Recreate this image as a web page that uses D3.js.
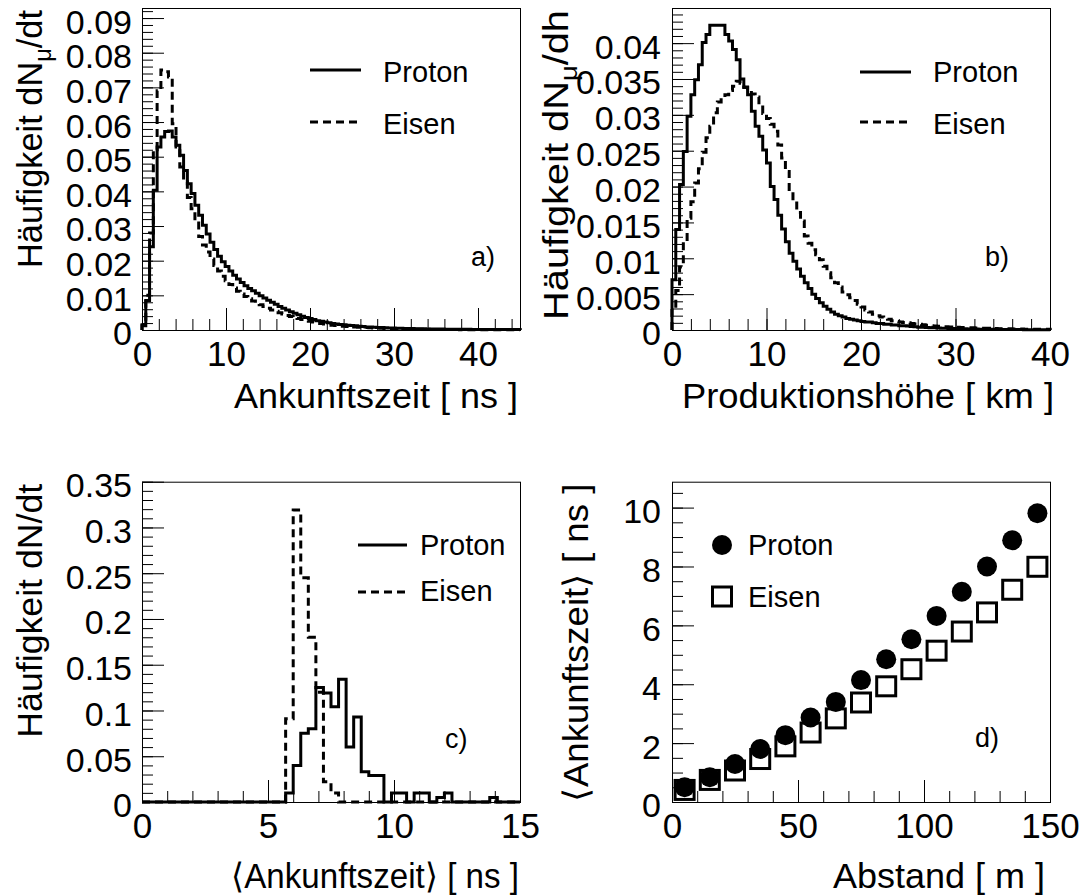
<!DOCTYPE html>
<html>
<head>
<meta charset="utf-8">
<script src="https://cdn.jsdelivr.net/npm/d3@7"></script>
<style>
  * { margin: 0; padding: 0; }
  body { background: white; }
  svg { display: block; font-family: "Liberation Sans", Arial, Helvetica, sans-serif; }
</style>
</head>
<body>
<svg id="chart" width="1084" height="896"></svg>
<script>
// a) Ankunftszeit, 100 bins of 0.45 ns
const timeBin = 0.45;
const protonTime = [
  0.0012, 0.0085, 0.024, 0.0403, 0.0528, 0.0557, 0.0573, 0.0574, 0.0557, 0.0533,
  0.0504, 0.046, 0.0422, 0.0394, 0.036, 0.0331, 0.0302, 0.0277, 0.0253, 0.0232,
  0.0213, 0.0197, 0.0183, 0.017, 0.0158, 0.0147, 0.0137, 0.0128, 0.012, 0.0113,
  0.0106, 0.0099, 0.0092, 0.0086, 0.008, 0.0074, 0.0068, 0.0063, 0.0058, 0.0053,
  0.0048, 0.0044, 0.004, 0.0036, 0.0033, 0.003, 0.0027, 0.0025, 0.0023, 0.0021,
  0.0019, 0.0017, 0.0016, 0.0015, 0.0014, 0.0013, 0.0012, 0.0011, 0.001, 0.0009,
  0.00085, 0.0008, 0.00075, 0.0007, 0.00065, 0.0006, 0.00056, 0.00052, 0.00048, 0.00045,
  0.00042, 0.0004, 0.00038, 0.00036, 0.00034, 0.00032, 0.0003, 0.00028, 0.00027, 0.00026,
  0.00025, 0.00024, 0.00023, 0.00022, 0.00021, 0.0002, 0.00019, 0.00018, 0.00017, 0.00016,
  0.00015, 0.00015, 0.00014, 0.00014, 0.00013, 0.00013, 0.00012, 0.00012, 0.00011, 0.00011
];
const eisenTime = [
  0.0015, 0.01, 0.028, 0.052, 0.069, 0.075, 0.0745, 0.073, 0.0595, 0.0528,
  0.047, 0.0427, 0.0382, 0.035, 0.0315, 0.027, 0.0245, 0.0225, 0.0205, 0.0186,
  0.017, 0.0155, 0.0142, 0.0131, 0.0121, 0.0112, 0.0104, 0.0097, 0.009, 0.0084,
  0.0078, 0.0073, 0.0068, 0.0063, 0.0058, 0.0054, 0.005, 0.0046, 0.0042, 0.0039,
  0.0036, 0.0033, 0.003, 0.0027, 0.0025, 0.0023, 0.0021, 0.0019, 0.0017, 0.0016,
  0.0014, 0.0013, 0.0012, 0.0011, 0.001, 0.0009, 0.00085, 0.0008, 0.00075, 0.0007,
  0.00065, 0.0006, 0.00055, 0.0005, 0.00046, 0.00042, 0.00039, 0.00036, 0.00033, 0.0003,
  0.00028, 0.00026, 0.00024, 0.00022, 0.0002, 0.00019, 0.00018, 0.00017, 0.00016, 0.00015,
  0.00014, 0.00013, 0.00012, 0.00011, 0.0001, 0.0001, 0.00009, 0.00009, 0.00008, 0.00008,
  0.00007, 0.00007, 0.00006, 0.00006, 0.00005, 0.00005, 0.00005, 0.00004, 0.00004, 0.00004
];

// b) Produktionshöhe, 100 bins of 0.4 km
const heightBin = 0.4;
const protonHeight = [
  0.007, 0.014, 0.0203, 0.0249, 0.0298, 0.0328, 0.0349, 0.037, 0.0401, 0.0412,
  0.0425, 0.0425, 0.0425, 0.0425, 0.0412, 0.0403, 0.0391, 0.0377, 0.035, 0.0339,
  0.0328, 0.0305, 0.0284, 0.027, 0.0251, 0.0233, 0.02, 0.0182, 0.016, 0.0141,
  0.0123, 0.0107, 0.0096, 0.0085, 0.0075, 0.0066, 0.0058, 0.005, 0.0044, 0.0038,
  0.0033, 0.0029, 0.0025, 0.0022, 0.002, 0.0018, 0.0016, 0.0015, 0.0014, 0.0013,
  0.0012, 0.0011, 0.0011, 0.001, 0.0009, 0.0009, 0.0008, 0.0008, 0.0007, 0.0007,
  0.0006, 0.0006, 0.00055, 0.0005, 0.00045, 0.0004, 0.00038, 0.00035, 0.00032, 0.0003,
  0.00028, 0.00026, 0.00024, 0.00022, 0.0002, 0.00018, 0.00017, 0.00016, 0.00015, 0.00014,
  0.00013, 0.00012, 0.00011, 0.0001, 0.0001, 0.00009, 0.00009, 0.00008, 0.00008, 0.00007,
  0.00007, 0.00006, 0.00006, 0.00005, 0.00005, 0.00005, 0.00004, 0.00004, 0.00004, 0.00003
];
const eisenHeight = [
  0.003, 0.0055, 0.0088, 0.0123, 0.0156, 0.0179, 0.0205, 0.0225, 0.0248, 0.0268,
  0.0284, 0.0303, 0.0318, 0.0324, 0.0328, 0.0334, 0.034, 0.0347, 0.0344, 0.0338,
  0.0334, 0.0329, 0.0325, 0.0314, 0.0302, 0.0295, 0.0287, 0.0277, 0.0258, 0.024,
  0.0221, 0.0193, 0.0177, 0.0164, 0.0152, 0.0131, 0.0121, 0.0112, 0.0105, 0.0098,
  0.0089, 0.008, 0.0073, 0.0066, 0.006, 0.0053, 0.0049, 0.0045, 0.0041, 0.0036,
  0.0032, 0.0028, 0.0025, 0.0022, 0.002, 0.0018, 0.0016, 0.0015, 0.0013, 0.0012,
  0.0011, 0.00105, 0.001, 0.0009, 0.00085, 0.0008, 0.00072, 0.00065, 0.0006, 0.00056,
  0.00052, 0.00048, 0.00046, 0.00043, 0.0004, 0.00037, 0.00035, 0.00033, 0.00031, 0.0003,
  0.00028, 0.00026, 0.00025, 0.00023, 0.00022, 0.0002, 0.00019, 0.00018, 0.00017, 0.00016,
  0.00015, 0.00014, 0.00013, 0.00012, 0.00012, 0.00011, 0.0001, 0.0001, 0.00009, 0.00009
];

// c) mittlere Ankunftszeit, 50 bins of 0.3 ns
const meanBin = 0.3;
const protonMean = [
  0, 0, 0, 0, 0, 0, 0, 0, 0, 0,
  0, 0, 0, 0, 0, 0, 0, 0, 0, 0.0098,
  0.04, 0.075, 0.08, 0.125, 0.119, 0.104, 0.134, 0.06, 0.093, 0.033,
  0.029, 0.029, 0, 0.0098, 0.0098, 0, 0.0098, 0.0098, 0, 0.005,
  0.0098, 0, 0, 0, 0, 0, 0.005, 0, 0, 0
];
const eisenMean = [
  0, 0, 0, 0, 0, 0, 0, 0, 0, 0,
  0, 0, 0, 0, 0, 0, 0, 0, 0, 0.091,
  0.319, 0.245, 0.18, 0.12, 0.022, 0.0098, 0, 0, 0, 0,
  0, 0, 0, 0, 0, 0, 0, 0, 0, 0,
  0, 0, 0, 0, 0, 0, 0, 0, 0, 0
];

// d) mittlere Ankunftszeit gegen Abstand
const distance = [5, 15, 25, 35, 45, 55, 65, 75, 85, 95, 105, 115, 125, 135, 145];
const protonMeanTime = [0.5, 0.84, 1.29, 1.8, 2.27, 2.87, 3.4, 4.14, 4.85, 5.53, 6.32, 7.14, 8.0, 8.89, 9.81];
const eisenMeanTime = [0.41, 0.75, 1.07, 1.46, 1.89, 2.36, 2.84, 3.38, 3.93, 4.51, 5.14, 5.79, 6.44, 7.21, 7.99];

// tick labels
const xTicksA = [0, 10, 20, 30, 40];
const yTicksA = [0, 0.01, 0.02, 0.03, 0.04, 0.05, 0.06, 0.07, 0.08, 0.09];
const xTicksB = [0, 10, 20, 30, 40];
const yTicksB = [0, 0.005, 0.01, 0.015, 0.02, 0.025, 0.03, 0.035, 0.04];
const xTicksC = [0, 5, 10, 15];
const yTicksC = [0, 0.05, 0.1, 0.15, 0.2, 0.25, 0.3, 0.35];
const xTicksD = [0, 50, 100, 150];
const yTicksD = [0, 2, 4, 6, 8, 10];

const svg = d3.select("#chart");
const fmt = d3.format("~g");
const DASH = "8,5";

function drawFrame(p) {
  const x = d3.scaleLinear().domain(p.xDomain).range([p.left, p.right]);
  const y = d3.scaleLinear().domain(p.yDomain).range([p.bottom, p.top]);
  const g = svg.append("g");

  const clean = s => {
    s.select(".domain").remove();
    s.attr("font-size", null).attr("font-family", null);
    s.selectAll("line").attr("stroke", "#000");
  };

  // minor ticks
  g.append("g").attr("transform", `translate(0,${p.bottom})`)
    .call(d3.axisBottom(x).tickValues(d3.range(p.xDomain[0], p.xDomain[1] + 1e-9, p.xMinor)).tickSize(-11).tickFormat(""))
    .call(clean);
  g.append("g").attr("transform", `translate(${p.left},0)`)
    .call(d3.axisLeft(y).tickValues(d3.range(0, p.yDomain[1] + 1e-9, p.yMinor)).tickSize(-11).tickFormat(""))
    .call(clean);

  // major ticks with labels
  const xa = g.append("g").attr("transform", `translate(0,${p.bottom})`)
    .call(d3.axisBottom(x).tickValues(p.xTicks).tickSize(-22).tickPadding(11).tickFormat(fmt))
    .call(clean);
  xa.selectAll("text").attr("font-size", 35).attr("fill", "#000");

  const ya = g.append("g").attr("transform", `translate(${p.left},0)`)
    .call(d3.axisLeft(y).tickValues(p.yTicks).tickSize(-22).tickPadding(p.yPad).tickFormat(fmt))
    .call(clean);
  ya.selectAll("text").attr("font-size", 34).attr("fill", "#000").attr("dy", "0.44em");

  g.append("rect")
    .attr("x", p.left + 0.5).attr("y", p.top + 0.5)
    .attr("width", p.right - p.left).attr("height", p.bottom - p.top)
    .attr("fill", "none").attr("stroke", "#000").attr("stroke-width", 1);

  // axis titles
  g.append("text")
    .attr("x", p.xTitleEnd).attr("y", p.xTitleY)
    .attr("text-anchor", "end").attr("font-size", 35)
    .attr("textLength", p.xTitleLen).attr("lengthAdjust", "spacingAndGlyphs")
    .text(p.xTitle);

  const yt = g.append("text")
    .attr("transform", `translate(${p.yTitleX},${p.top + 2}) rotate(-90)`)
    .attr("text-anchor", "end").attr("font-size", 35)
    .attr("textLength", p.yTitleLen).attr("lengthAdjust", "spacingAndGlyphs");
  p.yTitle.forEach(part => {
    const t = yt.append("tspan").text(part.text);
    if (part.sub) t.attr("font-size", 24).attr("dy", 9);
    if (part.after) t.attr("dy", -9);
  });

  // panel letter
  g.append("text")
    .attr("x", p.tagX).attr("y", p.tagY)
    .attr("font-size", 27).text(p.tag);

  return { x, y, g };
}

function histPath(x, y, values, width) {
  const pts = [[0, 0]];
  values.forEach((v, i) => pts.push([i * width, v]));
  pts.push([values.length * width, values[values.length - 1]]);
  pts.push([values.length * width, 0]);
  return d3.line().x(d => x(d[0])).y(d => y(d[1])).curve(d3.curveStepAfter)(pts);
}

function drawHist(f, values, width, dashed) {
  f.g.append("path")
    .attr("d", histPath(f.x, f.y, values, width))
    .attr("fill", "none").attr("stroke", "#000").attr("stroke-width", 3)
    .attr("stroke-dasharray", dashed ? DASH : null);
}

function lineLegend(g, x0, x1, yLine, textX, baseline, label, dashed) {
  g.append("line")
    .attr("x1", x0).attr("x2", x1).attr("y1", yLine).attr("y2", yLine)
    .attr("stroke", "#000").attr("stroke-width", 3)
    .attr("stroke-dasharray", dashed ? DASH : null);
  g.append("text").attr("x", textX).attr("y", baseline)
    .attr("font-size", 29).text(label);
}

// panel a
const fa = drawFrame({
  left: 142, right: 520, top: 8, bottom: 330,
  xDomain: [0, 45], yDomain: [0, 0.0929],
  xTicks: xTicksA, yTicks: yTicksA, xMinor: 2, yMinor: 0.002, yPad: 10,
  xTitle: "Ankunftszeit [ ns ]", xTitleY: 408, xTitleEnd: 518, xTitleLen: 284,
  yTitle: [{ text: "Häufigkeit dN" }, { text: "μ", sub: true }, { text: "/dt", after: true }],
  yTitleX: 42, yTitleLen: 258, tag: "a)", tagX: 471, tagY: 266
});
drawHist(fa, protonTime, timeBin, false);
drawHist(fa, eisenTime, timeBin, true);
lineLegend(fa.g, 310, 361, 70, 383, 82, "Proton", false);
lineLegend(fa.g, 310, 361, 122, 383, 134, "Eisen", true);

// panel b
const fb = drawFrame({
  left: 672, right: 1050, top: 8, bottom: 330,
  xDomain: [0, 40], yDomain: [0, 0.0449],
  xTicks: xTicksB, yTicks: yTicksB, xMinor: 2, yMinor: 0.001, yPad: 11,
  xTitle: "Produktionshöhe [ km ]", xTitleY: 408, xTitleEnd: 1054, xTitleLen: 372,
  yTitle: [{ text: "Häufigkeit dN" }, { text: "μ", sub: true }, { text: "/dh", after: true }],
  yTitleX: 568, yTitleLen: 310, tag: "b)", tagX: 985, tagY: 266
});
drawHist(fb, protonHeight, heightBin, false);
drawHist(fb, eisenHeight, heightBin, true);
lineLegend(fb.g, 860, 911, 72, 933, 82, "Proton", false);
lineLegend(fb.g, 860, 911, 122, 933, 134, "Eisen", true);

// panel c
const fc = drawFrame({
  left: 142, right: 520, top: 481.7, bottom: 802,
  xDomain: [0, 15], yDomain: [0, 0.35],
  xTicks: xTicksC, yTicks: yTicksC, xMinor: 1, yMinor: 0.01, yPad: 10,
  xTitle: "⟨Ankunftszeit⟩ [ ns ]", xTitleY: 888, xTitleEnd: 519, xTitleLen: 288,
  yTitle: [{ text: "Häufigkeit dN/dt" }],
  yTitleX: 42, yTitleLen: 254, tag: "c)", tagX: 445, tagY: 748
});
drawHist(fc, protonMean, meanBin, false);
drawHist(fc, eisenMean, meanBin, true);
lineLegend(fc.g, 358, 407, 545, 420, 555, "Proton", false);
lineLegend(fc.g, 358, 407, 592, 420, 601, "Eisen", true);

// panel d
const fd = drawFrame({
  left: 672, right: 1050, top: 481.7, bottom: 802,
  xDomain: [0, 150], yDomain: [0, 10.88],
  xTicks: xTicksD, yTicks: yTicksD, xMinor: 10, yMinor: 0.5, yPad: 11,
  xTitle: "Abstand [ m ]", xTitleY: 888, xTitleEnd: 1045, xTitleLen: 212,
  yTitle: [{ text: "⟨Ankunftszeit⟩ [ ns ]" }],
  yTitleX: 588, yTitleLen: 318, tag: "d)", tagX: 975, tagY: 747
});
fd.g.selectAll("rect.eisen")
  .data(distance.map((d, i) => [d, eisenMeanTime[i]]))
  .enter().append("rect").attr("class", "eisen")
  .attr("x", d => fd.x(d[0]) - 9.5).attr("y", d => fd.y(d[1]) - 9.5)
  .attr("width", 19).attr("height", 19)
  .attr("fill", "none").attr("stroke", "#000").attr("stroke-width", 3);
fd.g.selectAll("circle.proton")
  .data(distance.map((d, i) => [d, protonMeanTime[i]]))
  .enter().append("circle").attr("class", "proton")
  .attr("cx", d => fd.x(d[0])).attr("cy", d => fd.y(d[1]))
  .attr("r", 10).attr("fill", "#000");
// legend d
fd.g.append("circle").attr("cx", 722).attr("cy", 545).attr("r", 10).attr("fill", "#000");
fd.g.append("text").attr("x", 748).attr("y", 555).attr("font-size", 29).text("Proton");
fd.g.append("rect").attr("x", 712.5).attr("y", 587).attr("width", 19).attr("height", 19)
  .attr("fill", "none").attr("stroke", "#000").attr("stroke-width", 3);
fd.g.append("text").attr("x", 748).attr("y", 607).attr("font-size", 29).text("Eisen");
</script>
</body>
</html>
